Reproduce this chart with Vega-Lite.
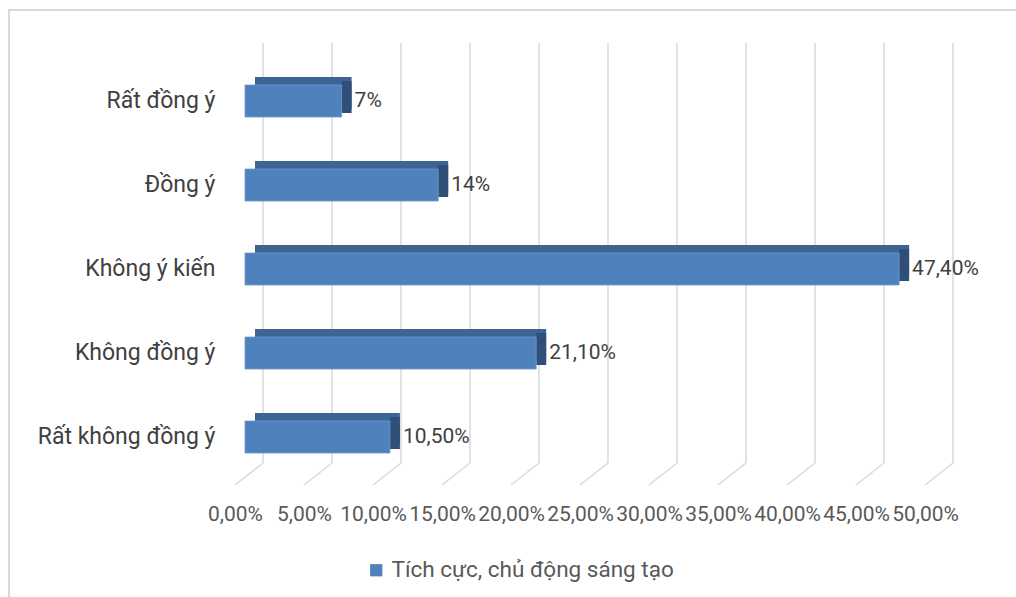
{
  "$schema": "https://vega.github.io/schema/vega-lite/v6.json",
  "width": 1007,
  "height": 587,
  "autosize": {"type": "none"},
  "padding": {"left": 9, "top": 10, "right": 0, "bottom": 0},
  "background": "white",
  "config": {
    "view": {"stroke": "#d9d9d9", "strokeWidth": 2, "strokeDash": [1007, 1594, 587, 2]},
    "font": "Roboto"
  },
  "datasets": {
    "ticks": [
      {"t": 0}, {"t": 5}, {"t": 10}, {"t": 15}, {"t": 20}, {"t": 25},
      {"t": 30}, {"t": 35}, {"t": 40}, {"t": 45}, {"t": 50}
    ],
    "survey": [
      {"muc": "Rất đồng ý", "pct": 7},
      {"muc": "Đồng ý", "pct": 14},
      {"muc": "Không ý kiến", "pct": 47.4},
      {"muc": "Không đồng ý", "pct": 21.1},
      {"muc": "Rất không đồng ý", "pct": 10.5}
    ]
  },
  "resolve": {"scale": {"y": "independent"}, "axis": {"y": "independent"}},
  "layer": [
    {
      "data": {"name": "ticks"},
      "layer": [
        {
          "mark": {"type": "rule", "color": "#d9d9d9", "strokeWidth": 1.5},
          "encoding": {
            "x": {
              "field": "t",
              "type": "quantitative",
              "scale": {"domain": [0, 50], "range": [254, 944], "nice": false},
              "axis": {
                "title": null,
                "orient": "bottom",
                "offset": -134,
                "values": [0, 5, 10, 15, 20, 25, 30, 35, 40, 45, 50],
                "labelExpr": "replace(format(datum.value, '.2f'), '.', ',') + '%'",
                "domain": false,
                "ticks": false,
                "grid": false,
                "labelOffset": -28,
                "labelPadding": 40,
                "labelFontSize": 21,
                "labelColor": "#595959",
                "labelFont": "Roboto",
                "labelOverlap": false,
                "labelBound": false,
                "labelFlush": false
              }
            },
            "y": {"datum": 0, "type": "quantitative", "scale": {"domain": [0, 1], "range": [453, 33]}, "axis": null},
            "y2": {"datum": 1}
          }
        },
        {
          "mark": {"type": "rule", "color": "#d9d9d9", "strokeWidth": 1.5, "x2Offset": -28, "y2Offset": 22},
          "encoding": {
            "x": {"field": "t", "type": "quantitative"},
            "x2": {"field": "t"},
            "y": {"datum": 0, "type": "quantitative", "axis": null},
            "y2": {"datum": 0}
          }
        }
      ]
    },
    {
      "data": {"name": "survey"},
      "encoding": {
        "y": {
          "field": "muc",
          "type": "nominal",
          "sort": ["Rất đồng ý", "Đồng ý", "Không ý kiến", "Không đồng ý", "Rất không đồng ý"],
          "scale": {"range": [33, 453], "paddingInner": 0, "paddingOuter": 0},
          "axis": {
            "title": null,
            "orient": "left",
            "offset": -254,
            "domain": false,
            "ticks": false,
            "labelPadding": 48,
            "labelOffset": 16,
            "labelFontSize": 23,
            "labelColor": "#404040",
            "labelFont": "Roboto",
            "labelLimit": 300
          }
        }
      },
      "layer": [
        {
          "mark": {"type": "bar", "color": "#3d6493", "size": 32, "xOffset": -8, "x2Offset": -8, "yOffset": 8},
          "encoding": {
            "x": {"field": "pct", "type": "quantitative"},
            "x2": {"datum": 0}
          }
        },
        {
          "mark": {"type": "bar", "color": "#2f4f78", "size": 32, "xOffset": -18, "x2Offset": -8, "yOffset": 12},
          "encoding": {
            "x": {"field": "pct", "type": "quantitative"},
            "x2": {"field": "pct"}
          }
        },
        {
          "mark": {"type": "bar", "size": 32, "xOffset": -18, "x2Offset": -18, "yOffset": 16, "stroke": "#6f97c9", "strokeWidth": 0.8},
          "encoding": {
            "x": {"field": "pct", "type": "quantitative"},
            "x2": {"datum": 0},
            "color": {
              "datum": "Tích cực, chủ động sáng tạo",
              "type": "nominal",
              "scale": {"range": ["#4f81bd"]},
              "legend": {
                "title": null,
                "orient": "none",
                "legendX": 356,
                "legendY": 549,
                "symbolType": "square",
                "symbolSize": 150,
                "symbolStrokeWidth": 0,
                "labelFontSize": 22.5,
                "labelColor": "#595959",
                "labelFont": "Roboto",
                "labelLimit": 400,
                "padding": 0,
                "labelOffset": 4
              }
            }
          }
        },
        {
          "mark": {"type": "text", "align": "left", "baseline": "middle", "xOffset": -5, "yOffset": 16, "fontSize": 21, "color": "#404040", "font": "Roboto"},
          "encoding": {
            "x": {"field": "pct", "type": "quantitative"},
            "text": {"value": {"expr": "datum.pct % 1 === 0 ? datum.pct + '%' : replace(format(datum.pct, '.2f'), '.', ',') + '%'"}}
          }
        }
      ]
    }
  ]
}
